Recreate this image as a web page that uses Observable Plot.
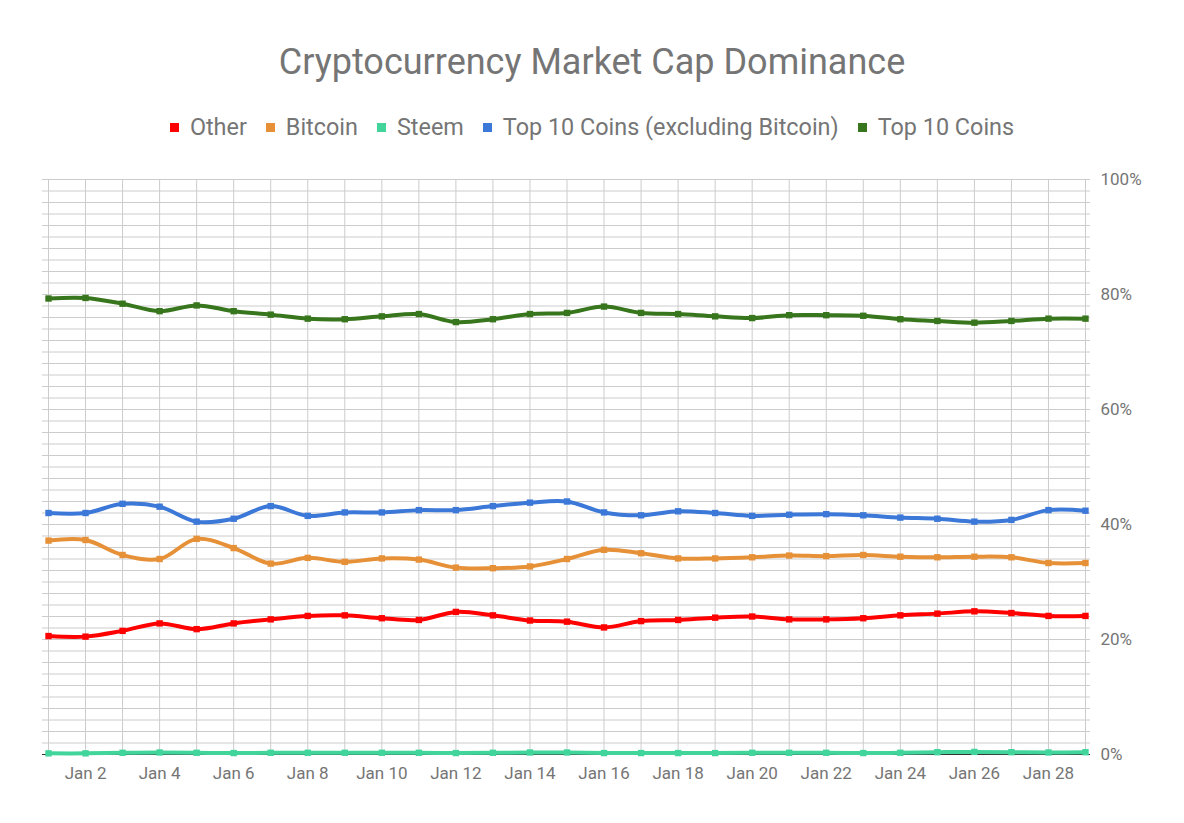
<!DOCTYPE html>
<html>
<head>
<meta charset="utf-8">
<script src="https://cdn.jsdelivr.net/npm/d3@7"></script>
<script src="https://cdn.jsdelivr.net/npm/@observablehq/plot@0.6"></script>
<style>
  html, body { margin: 0; padding: 0; background: #fff; }
  body { width: 1184px; height: 823px; position: relative; overflow: hidden; font-family: Roboto, sans-serif; }
  #title { position: absolute; top: 39px; left: 0; width: 1184px; text-align: center; font-size: 36px; color: #757575; line-height: 46px; }
  #legend { position: absolute; top: 112px; left: 0; width: 1184px; display: flex; justify-content: center; font-size: 23.4px; color: #757575; line-height: 30px; }
  .item { display: flex; align-items: center; margin: 0 9.5px; }
  .sw { width: 9px; height: 9px; margin-right: 11px; }
  #chart { position: absolute; top: 160px; left: 0; }
</style>
</head>
<body>
<div id="title">Cryptocurrency Market Cap Dominance</div>
<div id="legend"></div>
<div id="chart"></div>
<script>
const days = [1,2,3,4,5,6,7,8,9,10,11,12,13,14,15,16,17,18,19,20,21,22,23,24,25,26,27,28,29];
const seriesNames = ["Other", "Bitcoin", "Steem", "Top 10 Coins (excluding Bitcoin)", "Top 10 Coins"];
const seriesColors = ["#ff0000", "#e69138", "#41d59c", "#3c78d8", "#38761d"];
const other   = [20.6,20.5,21.5,22.8,21.8,22.8,23.5,24.1,24.2,23.7,23.4,24.8,24.2,23.3,23.1,22.1,23.2,23.4,23.8,24.0,23.5,23.5,23.7,24.2,24.5,24.9,24.6,24.1,24.1];
const bitcoin = [37.2,37.3,34.7,34.0,37.5,35.9,33.2,34.2,33.5,34.1,33.9,32.5,32.4,32.7,34.0,35.6,35.0,34.1,34.1,34.3,34.6,34.5,34.7,34.4,34.3,34.4,34.3,33.3,33.3];
const steem   = [0.2,0.2,0.3,0.35,0.3,0.25,0.3,0.3,0.3,0.3,0.3,0.25,0.3,0.35,0.35,0.25,0.25,0.25,0.25,0.3,0.3,0.3,0.25,0.3,0.4,0.45,0.4,0.35,0.4];
const top10ex = [42.0,42.0,43.6,43.1,40.5,41.0,43.2,41.5,42.1,42.1,42.5,42.5,43.2,43.8,44.0,42.1,41.6,42.3,42.0,41.5,41.7,41.8,41.6,41.2,41.0,40.5,40.8,42.5,42.4];
const top10   = [79.3,79.4,78.4,77.1,78.1,77.1,76.5,75.8,75.7,76.2,76.6,75.2,75.7,76.6,76.8,77.9,76.8,76.6,76.2,75.9,76.4,76.4,76.3,75.7,75.4,75.1,75.4,75.8,75.8];
const yTicks = [0, 20, 40, 60, 80, 100];
const xTickDays = [2,4,6,8,10,12,14,16,18,20,22,24,26,28];

const dayDate = d => new Date(Date.UTC(2018, 0, d));
const allSeries = [other, bitcoin, steem, top10ex, top10];
const data = [];
allSeries.forEach((vals, i) => vals.forEach((v, j) => data.push({series: seriesNames[i], date: dayDate(days[j]), value: v})));

// legend
const legend = document.getElementById("legend");
seriesNames.forEach((n, i) => {
  const it = document.createElement("div"); it.className = "item";
  const sw = document.createElement("div"); sw.className = "sw"; sw.style.background = seriesColors[i];
  const tx = document.createElement("span"); tx.textContent = n;
  it.appendChild(sw); it.appendChild(tx); legend.appendChild(it);
});

const fmt = d3.utcFormat("%b %-d");
const dayMs = 864e5;
const first = dayDate(days[0]), last = dayDate(days[days.length - 1]);

const marks = [
  Plot.ruleY(d3.range(0, 101, 2), {stroke: "#cccccc", strokeWidth: 1}),
  Plot.ruleX(days.map(dayDate), {stroke: "#cccccc", strokeWidth: 1}),
  Plot.ruleY([0], {stroke: "#333333", strokeWidth: 1}),
];
seriesNames.forEach((n, i) => {
  const sub = data.filter(d => d.series === n);
  marks.push(Plot.line(sub, {x: "date", y: "value", stroke: seriesColors[i], strokeWidth: 4, curve: "catmull-rom"}));
  marks.push(Plot.dot(sub, {x: "date", y: "value", fill: seriesColors[i], symbol: "square", r: 3.6}));
});
marks.push(Plot.axisY({anchor: "right", ticks: yTicks, tickSize: 0, tickPadding: 10, tickFormat: d => d + "%", label: null, fontSize: 17}));
marks.push(Plot.axisX({ticks: xTickDays.map(dayDate), tickSize: 0, tickPadding: 12, tickFormat: fmt, label: null, fontSize: 17}));

const chart = Plot.plot({
  width: 1184,
  height: 663,
  marginTop: 19,
  marginBottom: 69,
  marginLeft: 42,
  marginRight: 94,
  style: {fontFamily: "Roboto, sans-serif", color: "#757575", background: "transparent"},
  x: {type: "utc", domain: [new Date(+first - 0.162 * dayMs), new Date(+last + 0.135 * dayMs)]},
  y: {domain: [0, 100]},
  marks
});
document.getElementById("chart").appendChild(chart);
</script>
</body>
</html>
